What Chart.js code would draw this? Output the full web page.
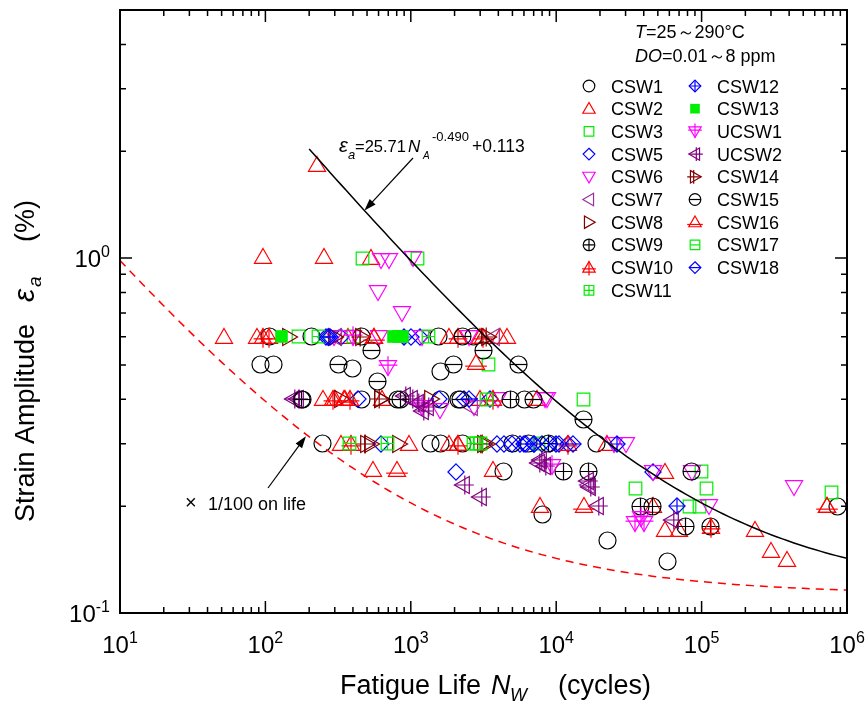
<!DOCTYPE html>
<html>
<head>
<meta charset="utf-8">
<script src="https://cdn.jsdelivr.net/npm/chart.js@4.4.1/dist/chart.umd.min.js"></script>
<style>
  body { margin: 0; background: #fff; }
  canvas { display: block; }
</style>
</head>
<body>
<canvas id="fatigueChart" width="867" height="704"></canvas>
<script>
// test points: [fatigue life N (cycles), strain amplitude (%)]
const csw1 = [[93,0.5],[113,0.5],[106,0.6],[207,0.6],[455,0.6],[1556,0.6],[2703,0.6],[400,0.49],[1600,0.48],
  [455,0.4],[1600,0.4],[2130,0.4],[6100,0.4],[246,0.3],[1370,0.3],[1600,0.3],[2270,0.3],[5000,0.3],[6500,0.3],
  [19000,0.3],[4340,0.25],[8000,0.189],[22700,0.16],[58500,0.14],[855000,0.2]];
const csw2 = [[52,0.6],[97,1.01],[253,1.01],[532,1.0],[227,1.83],[87,0.6],[370,0.6],[560,0.6],[1820,0.6],
  [3000,0.6],[4132,0.6],[4616,0.6],[250,0.4],[300,0.4],[345,0.4],[630,0.4],[3000,0.4],[7370,0.4],[332,0.3],
  [965,0.3],[1820,0.3],[2120,0.3],[22300,0.3],[550,0.253],[3700,0.253],[55800,0.25],[7770,0.2],[46000,0.2],
  [730000,0.2],[56000,0.171],[70000,0.171],[234000,0.171],[301000,0.15],[388000,0.141]];
const csw3 = [[469,1.0],[1117,1.0],[168,0.6],[401,0.6],[3420,0.5],[15300,0.4],[7500,0.3],[35300,0.225],
  [108000,0.225],[100000,0.25],[82000,0.2],[96000,0.2],[777000,0.219]];
const csw5 = [[262,0.6],[330,0.6],[1000,0.6],[1150,0.6],[433,0.4],[1556,0.4],[2330,0.4],[3500,0.4],[624,0.3],
  [3900,0.3],[4400,0.3],[5000,0.3],[5600,0.3],[6200,0.3],[7000,0.3],[8000,0.3],[9100,0.3],[10500,0.3],
  [12000,0.3],[2030,0.25],[46100,0.25]];
const csw6 = [[624,0.99],[706,0.99],[1032,1.0],[594,0.8],[867,0.7],[297,0.6],[600,0.6],[1200,0.6],[2500,0.6],
  [1600,0.373],[2700,0.38],[4000,0.4],[8400,0.4],[8600,0.4],[25000,0.3],[30000,0.3],[46100,0.25],
  [85600,0.25],[113000,0.2],[433000,0.227]];
const csw7 = [[300,0.6],[3647,0.6],[2600,0.38],[16500,0.23]];
const csw8 = [[146,0.6],[300,0.6],[332,0.4],[624,0.4],[1370,0.4],[532,0.3],[828,0.3],[3350,0.3]];
const csw9 = [[176,0.4],[850,0.4],[4830,0.4],[8800,0.3],[11200,0.25],[16800,0.25],[38000,0.2],[46000,0.2],
  [78000,0.175],[116000,0.175]];
const csw10 = [[97,0.6],[106,0.6],[2100,0.6],[3114,0.6],[290,0.4],[380,0.4],[3700,0.4],[390,0.3],[2120,0.3],
  [12000,0.3],[116000,0.175]];
const csw11 = [[231,0.6],[1328,0.6],[3300,0.4],[695,0.3],[2700,0.3],[3000,0.3]];
const csw12 = [[280,0.6],[900,0.6],[7000,0.3],[10000,0.3],[26000,0.3],[67500,0.2]];
const csw13 = [[129,0.6],[766,0.6],[828,0.6],[880,0.6]];
const ucsw1 = [[400,0.6],[695,0.493],[1200,0.38],[9400,0.26],[35000,0.179],[38000,0.185],[40000,0.179]];
const ucsw2 = [[155,0.4],[165,0.4],[900,0.41],[1000,0.4],[1100,0.39],[1200,0.37],[1290,0.38],[2300,0.23],
  [3000,0.212],[7540,0.265],[7770,0.27],[8300,0.26],[16300,0.235],[16800,0.227],[19000,0.2],[63000,0.183]];
const csw14 = [[460,0.6],[3400,0.6],[620,0.4],[500,0.3],[3200,0.3]];
const csw15 = [[2271,0.6],[318,0.5],[540,0.55],[594,0.45],[1960,0.5],[3140,0.55],[5500,0.5],[180,0.4],
  [813,0.4],[2200,0.4],[7000,0.4],[15300,0.35],[85600,0.25]];
const csw16 = [[560,0.6],[2786,0.506],[350,0.4],[800,0.253],[15600,0.2],[730000,0.2]];
const csw17 = [[380,0.3],[2850,0.3]];
const csw18 = [[270,0.6],[2500,0.4],[6000,0.3],[13000,0.3]];

// fitted curve: eps_a = A * N^B + C, design curve shifted by 1/100 on life
const fitA = 25.71, fitB = -0.490, fitC = 0.113;
const lifeFactor = 100;
const fitRange = [200, 1e6];
const designRange = [10, 1e6];

const xTicks = [1, 2, 3, 4, 5, 6];   // decades 10^1 .. 10^6
const yTicks = [-1, 0];              // decades 10^-1, 10^0

const SANS = '"Liberation Sans", Arial, sans-serif';
const font = (size, italic) => (italic ? 'italic ' : '') + size + 'px ' + SANS;

const series = [
  { label: 'CSW1', data: csw1, color: '#000000', shape: 'circle' },
  { label: 'CSW2', data: csw2, color: '#ff0000', shape: 'up' },
  { label: 'CSW3', data: csw3, color: '#00ee00', shape: 'square' },
  { label: 'CSW5', data: csw5, color: '#0000ff', shape: 'diamond' },
  { label: 'CSW6', data: csw6, color: '#ff00ff', shape: 'down' },
  { label: 'CSW7', data: csw7, color: '#993399', shape: 'left' },
  { label: 'CSW8', data: csw8, color: '#800000', shape: 'right' },
  { label: 'CSW9', data: csw9, color: '#000000', shape: 'circle', mark: 'plus' },
  { label: 'CSW10', data: csw10, color: '#ff0000', shape: 'up', mark: 'plus' },
  { label: 'CSW11', data: csw11, color: '#00ee00', shape: 'square', mark: 'plus' },
  { label: 'CSW12', data: csw12, color: '#0000ff', shape: 'diamond', mark: 'plus' },
  { label: 'CSW13', data: csw13, color: '#00ee00', shape: 'square', filled: true },
  { label: 'UCSW1', data: ucsw1, color: '#ff00ff', shape: 'down', mark: 'plus' },
  { label: 'UCSW2', data: ucsw2, color: '#800080', shape: 'left', mark: 'plus' },
  { label: 'CSW14', data: csw14, color: '#800000', shape: 'right', mark: 'plus' },
  { label: 'CSW15', data: csw15, color: '#000000', shape: 'circle', mark: 'line' },
  { label: 'CSW16', data: csw16, color: '#ff0000', shape: 'up', mark: 'line' },
  { label: 'CSW17', data: csw17, color: '#00ee00', shape: 'square', mark: 'line' },
  { label: 'CSW18', data: csw18, color: '#0000ff', shape: 'diamond', mark: 'line' }
];

function drawMarker(g, spec, cx, cy, r, lw) {
  g.save();
  g.translate(cx, cy);
  g.strokeStyle = spec.color;
  g.fillStyle = spec.color;
  g.lineWidth = lw || 1;
  let ext = r;
  g.beginPath();
  if (spec.shape === 'circle') {
    g.arc(0, 0, r, 0, Math.PI * 2);
  } else if (spec.shape === 'square') {
    ext = r * 0.74;
    g.rect(-ext, -ext, 2 * ext, 2 * ext);
  } else if (spec.shape === 'diamond') {
    ext = r * 0.9;
    g.moveTo(0, -ext); g.lineTo(ext, 0); g.lineTo(0, ext); g.lineTo(-ext, 0); g.closePath();
  } else {
    const turn = { up: 0, down: Math.PI, left: -Math.PI / 2, right: Math.PI / 2 }[spec.shape];
    g.rotate(turn);
    g.moveTo(0, -0.95 * r); g.lineTo(0.95 * r, 0.7 * r); g.lineTo(-0.95 * r, 0.7 * r); g.closePath();
  }
  if (spec.filled) g.fill(); else g.stroke();

  const tri = ['up', 'down', 'left', 'right'].includes(spec.shape);
  g.beginPath();
  if (spec.mark === 'plus') {
    if (tri) {
      g.moveTo(0, -0.95 * r); g.lineTo(0, 1.2 * r);
      g.moveTo(-1.05 * r, 0.2 * r); g.lineTo(1.05 * r, 0.2 * r);
    } else {
      g.moveTo(0, -ext); g.lineTo(0, ext);
      g.moveTo(-ext, 0); g.lineTo(ext, 0);
    }
  } else if (spec.mark === 'line') {
    if (tri) {
      g.moveTo(-1.2 * r, 0.35 * r); g.lineTo(1.2 * r, 0.35 * r);
    } else {
      g.moveTo(-ext, 0); g.lineTo(ext, 0);
    }
  }
  g.stroke();
  g.restore();
}

function markerCanvas(spec, r) {
  const c = document.createElement('canvas');
  const s = Math.ceil(r * 2.6) + 2;
  c.width = s;
  c.height = s;
  drawMarker(c.getContext('2d'), spec, s / 2, s / 2, r, 1.2);
  return c;
}

function curvePoints(range, factor) {
  const pts = [];
  const a = Math.log10(range[0]), b = Math.log10(range[1]);
  for (let i = 0; i <= 100; i++) {
    const n = Math.pow(10, a + (b - a) * i / 100);
    pts.push({ x: n, y: fitA * Math.pow(factor * n, fitB) + fitC });
  }
  return pts;
}

// text made of pieces with their own font and vertical shift
function richText(g, x, y, runs, align) {
  let w = 0;
  runs.forEach(r => { g.font = r[1]; w += g.measureText(r[0]).width; });
  let cx = align === 'center' ? x - w / 2 : align === 'right' ? x - w : x;
  runs.forEach(r => {
    g.font = r[1];
    g.fillText(r[0], cx, y + (r[2] || 0));
    cx += g.measureText(r[0]).width;
  });
}

function arrow(g, x0, y0, x1, y1) {
  const ang = Math.atan2(y1 - y0, x1 - x0);
  const c = Math.cos(ang), s = Math.sin(ang);
  g.beginPath();
  g.moveTo(x0, y0);
  g.lineTo(x1 - 8 * c, y1 - 8 * s);
  g.stroke();
  g.beginPath();
  g.moveTo(x1, y1);
  g.lineTo(x1 - 12 * c + 4 * s, y1 - 12 * s - 4 * c);
  g.lineTo(x1 - 12 * c - 4 * s, y1 - 12 * s + 4 * c);
  g.closePath();
  g.fill();
}

const frameAndText = {
  id: 'frameAndText',
  beforeDatasetsDraw(chart) {
    chart.ctx.imageSmoothingEnabled = false;
  },
  afterDatasetsDraw(chart) {
    chart.ctx.imageSmoothingEnabled = true;
  },
  afterDraw(chart) {
    const g = chart.ctx;
    const a = chart.chartArea;
    const xs = chart.scales.x, ys = chart.scales.y;
    g.save();
    g.strokeStyle = '#000';
    g.fillStyle = '#000';

    // frame
    g.lineWidth = 2;
    g.strokeRect(a.left, a.top, a.right - a.left, a.bottom - a.top);

    // inward ticks on all four sides
    g.lineWidth = 1.5;
    g.beginPath();
    for (let e = 1; e <= 6; e++) {
      for (let m = 1; m < 10; m++) {
        const v = m * Math.pow(10, e);
        if (v > 1e6) continue;
        const px = xs.getPixelForValue(v);
        const len = m === 1 ? 12 : 6;
        g.moveTo(px, a.bottom); g.lineTo(px, a.bottom - len);
        g.moveTo(px, a.top); g.lineTo(px, a.top + len);
      }
    }
    for (let e = -1; e <= 0; e++) {
      for (let m = 1; m < 10; m++) {
        const v = m * Math.pow(10, e);
        if (v > 5) continue;
        const py = ys.getPixelForValue(v);
        const len = m === 1 ? 12 : 6;
        g.moveTo(a.left, py); g.lineTo(a.left + len, py);
        g.moveTo(a.right, py); g.lineTo(a.right - len, py);
      }
    }
    g.stroke();

    // tick labels 10^n
    g.textBaseline = 'alphabetic';
    xTicks.forEach(e => {
      const px = xs.getPixelForValue(Math.pow(10, e));
      richText(g, px, a.bottom + 40, [['10', font(24)], [String(e), font(16), -10]], 'center');
    });
    yTicks.forEach(e => {
      const py = ys.getPixelForValue(Math.pow(10, e));
      richText(g, a.left - 10, py + 9, [['10', font(24)], [e < 0 ? '-' + (-e) : String(e), font(16), -10]], 'right');
    });

    // x axis title
    g.font = font(27);
    g.fillText('Fatigue Life', 340, 694);
    g.font = font(27, true);
    g.fillText('N', 491, 694);
    g.font = font(18, true);
    g.fillText('W', 510, 701);
    g.font = font(27);
    g.fillText('(cycles)', 558, 694);

    // y axis title, written bottom to top
    g.save();
    g.translate(34, 0);
    g.rotate(-Math.PI / 2);
    g.font = font(27);
    g.fillText('Strain Amplitude', -522, 0);
    g.font = font(30, true);
    g.fillText('\u03b5', -302, 0);
    g.font = font(19, true);
    g.fillText('a', -287, 7);
    g.font = font(27);
    g.fillText('(%)', -242, 0);
    g.restore();

    // conditions
    richText(g, 635, 38, [['T', font(18, true)], ['=25～290°C', font(18)]], 'left');
    richText(g, 635, 62, [['DO', font(18, true)], ['=0.01～8 ppm', font(18)]], 'left');

    // legend, two columns
    series.forEach((s, i) => {
      const col = i < 10 ? 0 : 1;
      const row = i < 10 ? i : i - 10;
      const y = 86 + row * 22.7;
      const mx = col === 0 ? 589 : 695;
      drawMarker(g, s, mx, y, s.shape === 'circle' ? 5.8 : 6.5, 1.2);
      g.fillStyle = '#000';
      g.font = font(18);
      g.fillText(s.label, mx + 22, y + 6.5);
    });

    // fit equation with arrow to the curve
    g.fillStyle = '#000';
    g.font = font(20, true);
    g.fillText('\u03b5', 339, 152);
    g.font = font(13, true);
    g.fillText('a', 348, 159);
    g.font = font(16.5);
    g.fillText('=25.71', 355, 152);
    g.font = font(17, true);
    g.fillText('N', 408, 152);
    g.font = font(10, true);
    g.fillText('A', 423, 159);
    g.font = font(13);
    g.fillText('-0.490', 432, 141);
    g.font = font(17.5);
    g.fillText('+0.113', 472, 152);
    const n1 = 480;
    g.lineWidth = 1.2;
    arrow(g, 413, 158, xs.getPixelForValue(n1), ys.getPixelForValue(fitA * Math.pow(n1, fitB) + fitC));

    // design curve note with arrow
    const n2 = 190;
    arrow(g, 268, 488, xs.getPixelForValue(n2),
      ys.getPixelForValue(fitA * Math.pow(lifeFactor * n2, fitB) + fitC) + 2);
    g.font = font(20);
    g.fillText('×', 185, 509);
    g.font = font(18);
    g.fillText('1/100 on life', 208, 510);
    g.restore();
  }
};

const datasets = series.map((s, i) => ({
  label: s.label,
  data: s.data.map(p => ({ x: p[0], y: p[1] })),
  pointStyle: markerCanvas(s, s.shape === 'circle' ? 8.5 : s.shape === 'square' ? 8.5 : 9),
  pointRadius: 8,
  order: 100 - i
}));

datasets.unshift({
  label: 'fit',
  data: curvePoints(fitRange, 1),
  showLine: true,
  pointRadius: 0,
  borderColor: '#000',
  borderWidth: 1.5,
  order: 0
}, {
  label: 'design',
  data: curvePoints(designRange, lifeFactor),
  showLine: true,
  pointRadius: 0,
  borderColor: '#ff0000',
  borderWidth: 1.5,
  borderDash: [8, 6],
  order: 0
});

const myChart = new Chart(document.getElementById('fatigueChart').getContext('2d'), {
  type: 'scatter',
  data: { datasets: datasets },
  options: {
    responsive: false,
    animation: false,
    devicePixelRatio: 1,
    layout: { padding: { left: 120, right: 20, top: 10, bottom: 91 } },
    scales: {
      x: { type: 'logarithmic', min: 10, max: 1e6, display: false },
      y: { type: 'logarithmic', min: 0.1, max: 5, display: false }
    },
    plugins: { legend: { display: false }, tooltip: { enabled: false } }
  },
  plugins: [frameAndText]
});
</script>
</body>
</html>
